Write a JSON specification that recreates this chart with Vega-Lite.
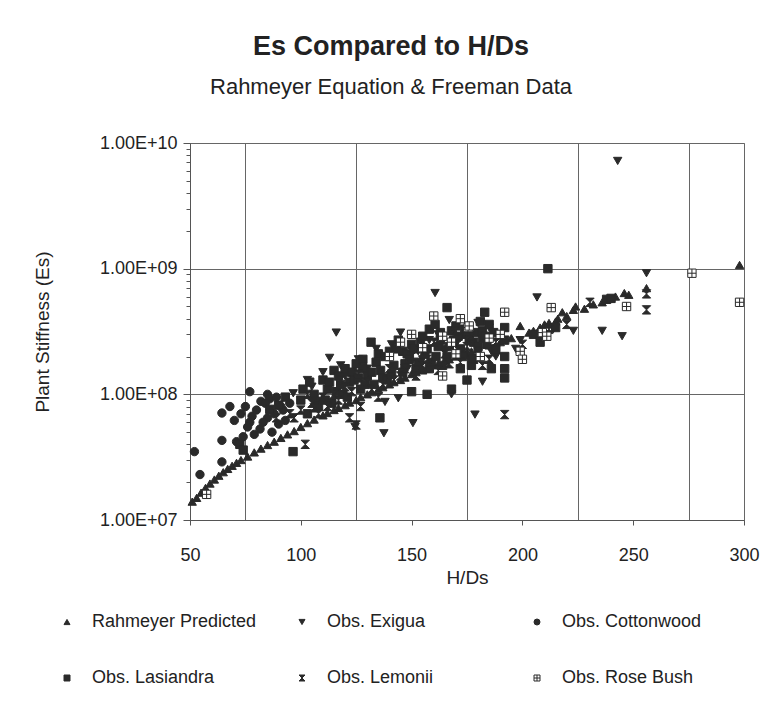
{
  "$schema": "https://vega.github.io/schema/vega-lite/v6.json",
  "width": 554,
  "height": 377,
  "autosize": "none",
  "padding": {"left": 190, "top": 143, "right": 34, "bottom": 198},
  "background": "white",
  "title": {
    "text": "Es Compared to H/Ds",
    "subtitle": "Rahmeyer Equation & Freeman Data",
    "anchor": "middle",
    "dx": -76,
    "offset": 35,
    "font": "Liberation Sans, Arial, sans-serif",
    "fontSize": 27,
    "fontWeight": "bold",
    "color": "#222",
    "subtitleFont": "Liberation Sans, Arial, sans-serif",
    "subtitleFontSize": 22,
    "subtitleColor": "#222",
    "subtitlePadding": 16
  },
  "config": {
    "view": {"stroke": "#666", "strokeWidth": 1},
    "font": "Liberation Sans, Arial, sans-serif",
    "axis": {
      "labelFont": "Liberation Sans, Arial, sans-serif",
      "titleFont": "Liberation Sans, Arial, sans-serif",
      "labelFontSize": 18,
      "titleFontSize": 19,
      "titleFontWeight": "normal",
      "labelColor": "#222",
      "titleColor": "#222",
      "domainColor": "#555",
      "tickColor": "#555",
      "gridColor": "#666",
      "gridWidth": 1
    },
    "legend": {
      "labelFont": "Liberation Sans, Arial, sans-serif",
      "labelFontSize": 18,
      "labelColor": "#222",
      "labelLimit": 300
    }
  },
  "data": {
    "values": [
      {"h": 51, "es": 1.4e7, "s": "Rahmeyer Predicted"},
      {"h": 53, "es": 1.5e7, "s": "Rahmeyer Predicted"},
      {"h": 55, "es": 1.65e7, "s": "Rahmeyer Predicted"},
      {"h": 57, "es": 1.8e7, "s": "Rahmeyer Predicted"},
      {"h": 59, "es": 1.95e7, "s": "Rahmeyer Predicted"},
      {"h": 61, "es": 2.1e7, "s": "Rahmeyer Predicted"},
      {"h": 63, "es": 2.25e7, "s": "Rahmeyer Predicted"},
      {"h": 65, "es": 2.4e7, "s": "Rahmeyer Predicted"},
      {"h": 67, "es": 2.55e7, "s": "Rahmeyer Predicted"},
      {"h": 69, "es": 2.7e7, "s": "Rahmeyer Predicted"},
      {"h": 71, "es": 2.85e7, "s": "Rahmeyer Predicted"},
      {"h": 73, "es": 3.0e7, "s": "Rahmeyer Predicted"},
      {"h": 76, "es": 3.2e7, "s": "Rahmeyer Predicted"},
      {"h": 79, "es": 3.45e7, "s": "Rahmeyer Predicted"},
      {"h": 82, "es": 3.7e7, "s": "Rahmeyer Predicted"},
      {"h": 85, "es": 3.95e7, "s": "Rahmeyer Predicted"},
      {"h": 88, "es": 4.2e7, "s": "Rahmeyer Predicted"},
      {"h": 91, "es": 4.5e7, "s": "Rahmeyer Predicted"},
      {"h": 94, "es": 4.8e7, "s": "Rahmeyer Predicted"},
      {"h": 97, "es": 5.1e7, "s": "Rahmeyer Predicted"},
      {"h": 100, "es": 5.5e7, "s": "Rahmeyer Predicted"},
      {"h": 103, "es": 5.9e7, "s": "Rahmeyer Predicted"},
      {"h": 106, "es": 6.3e7, "s": "Rahmeyer Predicted"},
      {"h": 110, "es": 6.8e7, "s": "Rahmeyer Predicted"},
      {"h": 112, "es": 7.1e7, "s": "Rahmeyer Predicted"},
      {"h": 115, "es": 7.5e7, "s": "Rahmeyer Predicted"},
      {"h": 117, "es": 7.8e7, "s": "Rahmeyer Predicted"},
      {"h": 120, "es": 8.2e7, "s": "Rahmeyer Predicted"},
      {"h": 122, "es": 8.6e7, "s": "Rahmeyer Predicted"},
      {"h": 125, "es": 9.0e7, "s": "Rahmeyer Predicted"},
      {"h": 127, "es": 9.5e7, "s": "Rahmeyer Predicted"},
      {"h": 130, "es": 1.0e8, "s": "Rahmeyer Predicted"},
      {"h": 132, "es": 1.04e8, "s": "Rahmeyer Predicted"},
      {"h": 135, "es": 1.1e8, "s": "Rahmeyer Predicted"},
      {"h": 137, "es": 1.14e8, "s": "Rahmeyer Predicted"},
      {"h": 140, "es": 1.2e8, "s": "Rahmeyer Predicted"},
      {"h": 142, "es": 1.25e8, "s": "Rahmeyer Predicted"},
      {"h": 145, "es": 1.3e8, "s": "Rahmeyer Predicted"},
      {"h": 147, "es": 1.36e8, "s": "Rahmeyer Predicted"},
      {"h": 150, "es": 1.45e8, "s": "Rahmeyer Predicted"},
      {"h": 152, "es": 1.5e8, "s": "Rahmeyer Predicted"},
      {"h": 155, "es": 1.55e8, "s": "Rahmeyer Predicted"},
      {"h": 157, "es": 1.6e8, "s": "Rahmeyer Predicted"},
      {"h": 160, "es": 1.7e8, "s": "Rahmeyer Predicted"},
      {"h": 162, "es": 1.75e8, "s": "Rahmeyer Predicted"},
      {"h": 165, "es": 1.85e8, "s": "Rahmeyer Predicted"},
      {"h": 167, "es": 1.9e8, "s": "Rahmeyer Predicted"},
      {"h": 170, "es": 2.0e8, "s": "Rahmeyer Predicted"},
      {"h": 172, "es": 2.05e8, "s": "Rahmeyer Predicted"},
      {"h": 175, "es": 2.15e8, "s": "Rahmeyer Predicted"},
      {"h": 177, "es": 2.2e8, "s": "Rahmeyer Predicted"},
      {"h": 180, "es": 2.3e8, "s": "Rahmeyer Predicted"},
      {"h": 185, "es": 2.45e8, "s": "Rahmeyer Predicted"},
      {"h": 190, "es": 2.6e8, "s": "Rahmeyer Predicted"},
      {"h": 195, "es": 2.8e8, "s": "Rahmeyer Predicted"},
      {"h": 199, "es": 3.5e8, "s": "Rahmeyer Predicted"},
      {"h": 203, "es": 3.1e8, "s": "Rahmeyer Predicted"},
      {"h": 205, "es": 3.2e8, "s": "Rahmeyer Predicted"},
      {"h": 208, "es": 3.4e8, "s": "Rahmeyer Predicted"},
      {"h": 210, "es": 3.6e8, "s": "Rahmeyer Predicted"},
      {"h": 212, "es": 3.7e8, "s": "Rahmeyer Predicted"},
      {"h": 215, "es": 3.8e8, "s": "Rahmeyer Predicted"},
      {"h": 216, "es": 4.0e8, "s": "Rahmeyer Predicted"},
      {"h": 218, "es": 4.5e8, "s": "Rahmeyer Predicted"},
      {"h": 220, "es": 4.2e8, "s": "Rahmeyer Predicted"},
      {"h": 223, "es": 4.7e8, "s": "Rahmeyer Predicted"},
      {"h": 224, "es": 5.0e8, "s": "Rahmeyer Predicted"},
      {"h": 228, "es": 4.8e8, "s": "Rahmeyer Predicted"},
      {"h": 232, "es": 5.2e8, "s": "Rahmeyer Predicted"},
      {"h": 236, "es": 5.4e8, "s": "Rahmeyer Predicted"},
      {"h": 239, "es": 5.8e8, "s": "Rahmeyer Predicted"},
      {"h": 242, "es": 6.0e8, "s": "Rahmeyer Predicted"},
      {"h": 246, "es": 6.4e8, "s": "Rahmeyer Predicted"},
      {"h": 248, "es": 6.2e8, "s": "Rahmeyer Predicted"},
      {"h": 256, "es": 7.0e8, "s": "Rahmeyer Predicted"},
      {"h": 298, "es": 1.07e9, "s": "Rahmeyer Predicted"},

      {"h": 96.6, "es": 1.02e8, "s": "Obs. Exigua"},
      {"h": 103, "es": 1.3e8, "s": "Obs. Exigua"},
      {"h": 105, "es": 1.15e8, "s": "Obs. Exigua"},
      {"h": 113, "es": 1.95e8, "s": "Obs. Exigua"},
      {"h": 116, "es": 3.1e8, "s": "Obs. Exigua"},
      {"h": 118, "es": 1.7e8, "s": "Obs. Exigua"},
      {"h": 124.5, "es": 5.5e7, "s": "Obs. Exigua"},
      {"h": 126, "es": 1.9e8, "s": "Obs. Exigua"},
      {"h": 134, "es": 2.3e8, "s": "Obs. Exigua"},
      {"h": 137.5, "es": 4.9e7, "s": "Obs. Exigua"},
      {"h": 141, "es": 2.5e8, "s": "Obs. Exigua"},
      {"h": 148, "es": 1.6e8, "s": "Obs. Exigua"},
      {"h": 150.6, "es": 5.9e7, "s": "Obs. Exigua"},
      {"h": 153, "es": 2.2e8, "s": "Obs. Exigua"},
      {"h": 144, "es": 9.3e7, "s": "Obs. Exigua"},
      {"h": 138, "es": 8.7e7, "s": "Obs. Exigua"},
      {"h": 162, "es": 3.0e8, "s": "Obs. Exigua"},
      {"h": 168, "es": 1.0e8, "s": "Obs. Exigua"},
      {"h": 170, "es": 2.5e8, "s": "Obs. Exigua"},
      {"h": 176, "es": 1.9e8, "s": "Obs. Exigua"},
      {"h": 178.6, "es": 6.9e7, "s": "Obs. Exigua"},
      {"h": 180, "es": 3.7e8, "s": "Obs. Exigua"},
      {"h": 160.6, "es": 6.4e8, "s": "Obs. Exigua"},
      {"h": 145, "es": 3.1e8, "s": "Obs. Exigua"},
      {"h": 182, "es": 1.26e8, "s": "Obs. Exigua"},
      {"h": 188, "es": 2.0e8, "s": "Obs. Exigua"},
      {"h": 197, "es": 2.3e8, "s": "Obs. Exigua"},
      {"h": 206.6, "es": 5.9e8, "s": "Obs. Exigua"},
      {"h": 199, "es": 2.7e8, "s": "Obs. Exigua"},
      {"h": 214, "es": 3.3e8, "s": "Obs. Exigua"},
      {"h": 223, "es": 3.2e8, "s": "Obs. Exigua"},
      {"h": 236, "es": 3.2e8, "s": "Obs. Exigua"},
      {"h": 245, "es": 2.9e8, "s": "Obs. Exigua"},
      {"h": 256, "es": 9.2e8, "s": "Obs. Exigua"},
      {"h": 243, "es": 7.2e9, "s": "Obs. Exigua"},
      {"h": 110, "es": 1.5e8, "s": "Obs. Exigua"},
      {"h": 120, "es": 1.4e8, "s": "Obs. Exigua"},
      {"h": 130, "es": 1.6e8, "s": "Obs. Exigua"},
      {"h": 155, "es": 1.9e8, "s": "Obs. Exigua"},
      {"h": 165, "es": 2.3e8, "s": "Obs. Exigua"},
      {"h": 172, "es": 2.8e8, "s": "Obs. Exigua"},
      {"h": 185, "es": 3.4e8, "s": "Obs. Exigua"},
      {"h": 186, "es": 2.2e8, "s": "Obs. Exigua"},
      {"h": 210, "es": 3.0e8, "s": "Obs. Exigua"},
      {"h": 167, "es": 3.9e8, "s": "Obs. Exigua"},
      {"h": 158, "es": 2.7e8, "s": "Obs. Exigua"},

      {"h": 52, "es": 3.5e7, "s": "Obs. Cottonwood"},
      {"h": 54.5, "es": 2.3e7, "s": "Obs. Cottonwood"},
      {"h": 64.4, "es": 2.9e7, "s": "Obs. Cottonwood"},
      {"h": 64.4, "es": 4.3e7, "s": "Obs. Cottonwood"},
      {"h": 64.4, "es": 7.1e7, "s": "Obs. Cottonwood"},
      {"h": 68, "es": 8.0e7, "s": "Obs. Cottonwood"},
      {"h": 70, "es": 6.2e7, "s": "Obs. Cottonwood"},
      {"h": 77, "es": 1.05e8, "s": "Obs. Cottonwood"},
      {"h": 85, "es": 1.0e8, "s": "Obs. Cottonwood"},
      {"h": 75, "es": 8.0e7, "s": "Obs. Cottonwood"},
      {"h": 71, "es": 4.2e7, "s": "Obs. Cottonwood"},
      {"h": 74, "es": 4.6e7, "s": "Obs. Cottonwood"},
      {"h": 77, "es": 6.0e7, "s": "Obs. Cottonwood"},
      {"h": 81.6, "es": 5.3e7, "s": "Obs. Cottonwood"},
      {"h": 78, "es": 6.7e7, "s": "Obs. Cottonwood"},
      {"h": 85, "es": 6.5e7, "s": "Obs. Cottonwood"},
      {"h": 80, "es": 7.5e7, "s": "Obs. Cottonwood"},
      {"h": 82, "es": 8.8e7, "s": "Obs. Cottonwood"},
      {"h": 83, "es": 6.0e7, "s": "Obs. Cottonwood"},
      {"h": 86, "es": 9.2e7, "s": "Obs. Cottonwood"},
      {"h": 88, "es": 7.0e7, "s": "Obs. Cottonwood"},
      {"h": 89, "es": 9.5e7, "s": "Obs. Cottonwood"},
      {"h": 90, "es": 5.8e7, "s": "Obs. Cottonwood"},
      {"h": 91, "es": 8.0e7, "s": "Obs. Cottonwood"},
      {"h": 92, "es": 7.5e7, "s": "Obs. Cottonwood"},
      {"h": 95, "es": 8.5e7, "s": "Obs. Cottonwood"},
      {"h": 87, "es": 5.0e7, "s": "Obs. Cottonwood"},
      {"h": 73, "es": 7.0e7, "s": "Obs. Cottonwood"},
      {"h": 76, "es": 5.5e7, "s": "Obs. Cottonwood"},
      {"h": 79, "es": 4.8e7, "s": "Obs. Cottonwood"},
      {"h": 84, "es": 8.5e7, "s": "Obs. Cottonwood"},
      {"h": 93, "es": 6.2e7, "s": "Obs. Cottonwood"},

      {"h": 96.5, "es": 3.5e7, "s": "Obs. Lasiandra"},
      {"h": 72.5, "es": 4.0e7, "s": "Obs. Lasiandra"},
      {"h": 74, "es": 3.6e7, "s": "Obs. Lasiandra"},
      {"h": 86, "es": 7.6e7, "s": "Obs. Lasiandra"},
      {"h": 90, "es": 8.2e7, "s": "Obs. Lasiandra"},
      {"h": 93, "es": 9.5e7, "s": "Obs. Lasiandra"},
      {"h": 100, "es": 9.0e7, "s": "Obs. Lasiandra"},
      {"h": 101, "es": 1.1e8, "s": "Obs. Lasiandra"},
      {"h": 103, "es": 7.0e7, "s": "Obs. Lasiandra"},
      {"h": 104, "es": 1.25e8, "s": "Obs. Lasiandra"},
      {"h": 106, "es": 1.0e8, "s": "Obs. Lasiandra"},
      {"h": 107, "es": 8.8e7, "s": "Obs. Lasiandra"},
      {"h": 108, "es": 8.0e7, "s": "Obs. Lasiandra"},
      {"h": 110, "es": 1.3e8, "s": "Obs. Lasiandra"},
      {"h": 111, "es": 9.0e7, "s": "Obs. Lasiandra"},
      {"h": 112, "es": 1.1e8, "s": "Obs. Lasiandra"},
      {"h": 113, "es": 1.25e8, "s": "Obs. Lasiandra"},
      {"h": 114, "es": 8.5e7, "s": "Obs. Lasiandra"},
      {"h": 115, "es": 1.55e8, "s": "Obs. Lasiandra"},
      {"h": 116, "es": 1.05e8, "s": "Obs. Lasiandra"},
      {"h": 117, "es": 1.4e8, "s": "Obs. Lasiandra"},
      {"h": 118, "es": 1.2e8, "s": "Obs. Lasiandra"},
      {"h": 119, "es": 1.0e8, "s": "Obs. Lasiandra"},
      {"h": 120, "es": 1.6e8, "s": "Obs. Lasiandra"},
      {"h": 121, "es": 9.5e7, "s": "Obs. Lasiandra"},
      {"h": 122, "es": 1.25e8, "s": "Obs. Lasiandra"},
      {"h": 123, "es": 1.5e8, "s": "Obs. Lasiandra"},
      {"h": 124, "es": 1.3e8, "s": "Obs. Lasiandra"},
      {"h": 125, "es": 1.75e8, "s": "Obs. Lasiandra"},
      {"h": 126, "es": 1.35e8, "s": "Obs. Lasiandra"},
      {"h": 127, "es": 1.1e8, "s": "Obs. Lasiandra"},
      {"h": 128, "es": 1.6e8, "s": "Obs. Lasiandra"},
      {"h": 128, "es": 1.9e8, "s": "Obs. Lasiandra"},
      {"h": 129, "es": 1.2e8, "s": "Obs. Lasiandra"},
      {"h": 130, "es": 1.4e8, "s": "Obs. Lasiandra"},
      {"h": 131.7, "es": 2.6e8, "s": "Obs. Lasiandra"},
      {"h": 132, "es": 1.5e8, "s": "Obs. Lasiandra"},
      {"h": 133, "es": 1.2e8, "s": "Obs. Lasiandra"},
      {"h": 134, "es": 1.8e8, "s": "Obs. Lasiandra"},
      {"h": 135, "es": 2.1e8, "s": "Obs. Lasiandra"},
      {"h": 135.7, "es": 6.5e7, "s": "Obs. Lasiandra"},
      {"h": 136, "es": 1.55e8, "s": "Obs. Lasiandra"},
      {"h": 137, "es": 1.35e8, "s": "Obs. Lasiandra"},
      {"h": 138, "es": 2.0e8, "s": "Obs. Lasiandra"},
      {"h": 139, "es": 1.3e8, "s": "Obs. Lasiandra"},
      {"h": 140, "es": 2.2e8, "s": "Obs. Lasiandra"},
      {"h": 141, "es": 1.45e8, "s": "Obs. Lasiandra"},
      {"h": 142, "es": 1.7e8, "s": "Obs. Lasiandra"},
      {"h": 143, "es": 2.3e8, "s": "Obs. Lasiandra"},
      {"h": 144, "es": 2.7e8, "s": "Obs. Lasiandra"},
      {"h": 146, "es": 1.5e8, "s": "Obs. Lasiandra"},
      {"h": 146, "es": 2.2e8, "s": "Obs. Lasiandra"},
      {"h": 147, "es": 1.75e8, "s": "Obs. Lasiandra"},
      {"h": 148, "es": 2.1e8, "s": "Obs. Lasiandra"},
      {"h": 149, "es": 1.9e8, "s": "Obs. Lasiandra"},
      {"h": 150, "es": 1.05e8, "s": "Obs. Lasiandra"},
      {"h": 150, "es": 2.5e8, "s": "Obs. Lasiandra"},
      {"h": 151, "es": 2.3e8, "s": "Obs. Lasiandra"},
      {"h": 152, "es": 1.6e8, "s": "Obs. Lasiandra"},
      {"h": 153, "es": 1.8e8, "s": "Obs. Lasiandra"},
      {"h": 154, "es": 2.6e8, "s": "Obs. Lasiandra"},
      {"h": 155, "es": 2.9e8, "s": "Obs. Lasiandra"},
      {"h": 156, "es": 2.1e8, "s": "Obs. Lasiandra"},
      {"h": 157, "es": 1.0e8, "s": "Obs. Lasiandra"},
      {"h": 157, "es": 2.3e8, "s": "Obs. Lasiandra"},
      {"h": 158, "es": 1.6e8, "s": "Obs. Lasiandra"},
      {"h": 158, "es": 3.3e8, "s": "Obs. Lasiandra"},
      {"h": 159, "es": 1.8e8, "s": "Obs. Lasiandra"},
      {"h": 160.6, "es": 3.6e8, "s": "Obs. Lasiandra"},
      {"h": 161, "es": 2.0e8, "s": "Obs. Lasiandra"},
      {"h": 162, "es": 2.4e8, "s": "Obs. Lasiandra"},
      {"h": 163, "es": 2.7e8, "s": "Obs. Lasiandra"},
      {"h": 163, "es": 3.1e8, "s": "Obs. Lasiandra"},
      {"h": 164, "es": 1.7e8, "s": "Obs. Lasiandra"},
      {"h": 166, "es": 2.0e8, "s": "Obs. Lasiandra"},
      {"h": 166, "es": 4.9e8, "s": "Obs. Lasiandra"},
      {"h": 167, "es": 2.4e8, "s": "Obs. Lasiandra"},
      {"h": 168, "es": 1.1e8, "s": "Obs. Lasiandra"},
      {"h": 168, "es": 3.2e8, "s": "Obs. Lasiandra"},
      {"h": 169, "es": 2.7e8, "s": "Obs. Lasiandra"},
      {"h": 170, "es": 3.5e8, "s": "Obs. Lasiandra"},
      {"h": 171, "es": 2.9e8, "s": "Obs. Lasiandra"},
      {"h": 172, "es": 1.6e8, "s": "Obs. Lasiandra"},
      {"h": 172, "es": 2.3e8, "s": "Obs. Lasiandra"},
      {"h": 173, "es": 2.0e8, "s": "Obs. Lasiandra"},
      {"h": 174, "es": 3.3e8, "s": "Obs. Lasiandra"},
      {"h": 175, "es": 1.3e8, "s": "Obs. Lasiandra"},
      {"h": 175, "es": 3.0e8, "s": "Obs. Lasiandra"},
      {"h": 176, "es": 2.7e8, "s": "Obs. Lasiandra"},
      {"h": 177, "es": 1.7e8, "s": "Obs. Lasiandra"},
      {"h": 178, "es": 1.9e8, "s": "Obs. Lasiandra"},
      {"h": 178, "es": 2.6e8, "s": "Obs. Lasiandra"},
      {"h": 179, "es": 3.1e8, "s": "Obs. Lasiandra"},
      {"h": 180, "es": 2.4e8, "s": "Obs. Lasiandra"},
      {"h": 181, "es": 3.8e8, "s": "Obs. Lasiandra"},
      {"h": 182, "es": 2.8e8, "s": "Obs. Lasiandra"},
      {"h": 182, "es": 3.2e8, "s": "Obs. Lasiandra"},
      {"h": 183, "es": 2.9e8, "s": "Obs. Lasiandra"},
      {"h": 183, "es": 4.5e8, "s": "Obs. Lasiandra"},
      {"h": 184, "es": 2.5e8, "s": "Obs. Lasiandra"},
      {"h": 185, "es": 3.6e8, "s": "Obs. Lasiandra"},
      {"h": 186, "es": 1.6e8, "s": "Obs. Lasiandra"},
      {"h": 187, "es": 3.1e8, "s": "Obs. Lasiandra"},
      {"h": 188, "es": 2.3e8, "s": "Obs. Lasiandra"},
      {"h": 192, "es": 3.4e8, "s": "Obs. Lasiandra"},
      {"h": 192, "es": 2.7e8, "s": "Obs. Lasiandra"},
      {"h": 192, "es": 2.0e8, "s": "Obs. Lasiandra"},
      {"h": 192, "es": 1.6e8, "s": "Obs. Lasiandra"},
      {"h": 192, "es": 1.35e8, "s": "Obs. Lasiandra"},
      {"h": 205, "es": 3.0e8, "s": "Obs. Lasiandra"},
      {"h": 208, "es": 2.6e8, "s": "Obs. Lasiandra"},
      {"h": 211.5, "es": 1.0e9, "s": "Obs. Lasiandra"},
      {"h": 215, "es": 3.4e8, "s": "Obs. Lasiandra"},
      {"h": 238, "es": 5.7e8, "s": "Obs. Lasiandra"},
      {"h": 240, "es": 5.8e8, "s": "Obs. Lasiandra"},

      {"h": 89, "es": 6.5e7, "s": "Obs. Lemonii"},
      {"h": 95, "es": 7.0e7, "s": "Obs. Lemonii"},
      {"h": 97, "es": 6.5e7, "s": "Obs. Lemonii"},
      {"h": 100, "es": 7.5e7, "s": "Obs. Lemonii"},
      {"h": 102, "es": 4.0e7, "s": "Obs. Lemonii"},
      {"h": 103, "es": 1.0e8, "s": "Obs. Lemonii"},
      {"h": 105, "es": 8.5e7, "s": "Obs. Lemonii"},
      {"h": 106, "es": 7.8e7, "s": "Obs. Lemonii"},
      {"h": 108, "es": 7.0e7, "s": "Obs. Lemonii"},
      {"h": 110, "es": 9.5e7, "s": "Obs. Lemonii"},
      {"h": 112, "es": 8.0e7, "s": "Obs. Lemonii"},
      {"h": 115, "es": 1.0e8, "s": "Obs. Lemonii"},
      {"h": 117, "es": 9.0e7, "s": "Obs. Lemonii"},
      {"h": 118, "es": 1.3e8, "s": "Obs. Lemonii"},
      {"h": 120, "es": 1.15e8, "s": "Obs. Lemonii"},
      {"h": 122, "es": 6.5e7, "s": "Obs. Lemonii"},
      {"h": 123, "es": 1.05e8, "s": "Obs. Lemonii"},
      {"h": 125, "es": 5.7e7, "s": "Obs. Lemonii"},
      {"h": 126, "es": 1.45e8, "s": "Obs. Lemonii"},
      {"h": 127, "es": 8.0e7, "s": "Obs. Lemonii"},
      {"h": 130, "es": 1.25e8, "s": "Obs. Lemonii"},
      {"h": 132, "es": 1.1e8, "s": "Obs. Lemonii"},
      {"h": 135, "es": 9.5e7, "s": "Obs. Lemonii"},
      {"h": 137, "es": 1.2e8, "s": "Obs. Lemonii"},
      {"h": 140, "es": 1.6e8, "s": "Obs. Lemonii"},
      {"h": 142, "es": 1.3e8, "s": "Obs. Lemonii"},
      {"h": 145, "es": 1.4e8, "s": "Obs. Lemonii"},
      {"h": 147, "es": 1.6e8, "s": "Obs. Lemonii"},
      {"h": 150, "es": 2.0e8, "s": "Obs. Lemonii"},
      {"h": 152, "es": 1.4e8, "s": "Obs. Lemonii"},
      {"h": 155, "es": 1.7e8, "s": "Obs. Lemonii"},
      {"h": 157, "es": 1.9e8, "s": "Obs. Lemonii"},
      {"h": 160, "es": 2.6e8, "s": "Obs. Lemonii"},
      {"h": 162, "es": 1.55e8, "s": "Obs. Lemonii"},
      {"h": 165, "es": 2.1e8, "s": "Obs. Lemonii"},
      {"h": 167, "es": 1.75e8, "s": "Obs. Lemonii"},
      {"h": 170, "es": 3.2e8, "s": "Obs. Lemonii"},
      {"h": 172, "es": 1.8e8, "s": "Obs. Lemonii"},
      {"h": 175, "es": 2.4e8, "s": "Obs. Lemonii"},
      {"h": 177, "es": 2.9e8, "s": "Obs. Lemonii"},
      {"h": 180, "es": 2.2e8, "s": "Obs. Lemonii"},
      {"h": 182, "es": 1.7e8, "s": "Obs. Lemonii"},
      {"h": 185, "es": 1.9e8, "s": "Obs. Lemonii"},
      {"h": 188, "es": 2.6e8, "s": "Obs. Lemonii"},
      {"h": 192, "es": 6.9e7, "s": "Obs. Lemonii"},
      {"h": 200, "es": 2.5e8, "s": "Obs. Lemonii"},
      {"h": 208, "es": 3.0e8, "s": "Obs. Lemonii"},
      {"h": 212, "es": 3.3e8, "s": "Obs. Lemonii"},
      {"h": 220, "es": 3.6e8, "s": "Obs. Lemonii"},
      {"h": 230.5, "es": 5.4e8, "s": "Obs. Lemonii"},
      {"h": 256, "es": 6.3e8, "s": "Obs. Lemonii"},
      {"h": 256, "es": 4.7e8, "s": "Obs. Lemonii"},

      {"h": 57.5, "es": 1.6e7, "s": "Obs. Rose Bush"},
      {"h": 140, "es": 2.0e8, "s": "Obs. Rose Bush"},
      {"h": 145, "es": 2.6e8, "s": "Obs. Rose Bush"},
      {"h": 150, "es": 3.0e8, "s": "Obs. Rose Bush"},
      {"h": 155, "es": 2.35e8, "s": "Obs. Rose Bush"},
      {"h": 160, "es": 4.2e8, "s": "Obs. Rose Bush"},
      {"h": 164, "es": 2.9e8, "s": "Obs. Rose Bush"},
      {"h": 164, "es": 1.4e8, "s": "Obs. Rose Bush"},
      {"h": 168, "es": 2.6e8, "s": "Obs. Rose Bush"},
      {"h": 170, "es": 2.1e8, "s": "Obs. Rose Bush"},
      {"h": 172, "es": 4.0e8, "s": "Obs. Rose Bush"},
      {"h": 175.5, "es": 3.4e8, "s": "Obs. Rose Bush"},
      {"h": 176, "es": 3.5e8, "s": "Obs. Rose Bush"},
      {"h": 181, "es": 2.0e8, "s": "Obs. Rose Bush"},
      {"h": 185, "es": 2.8e8, "s": "Obs. Rose Bush"},
      {"h": 190, "es": 3.0e8, "s": "Obs. Rose Bush"},
      {"h": 192, "es": 4.5e8, "s": "Obs. Rose Bush"},
      {"h": 199, "es": 2.2e8, "s": "Obs. Rose Bush"},
      {"h": 200, "es": 1.9e8, "s": "Obs. Rose Bush"},
      {"h": 209, "es": 3.1e8, "s": "Obs. Rose Bush"},
      {"h": 211, "es": 2.9e8, "s": "Obs. Rose Bush"},
      {"h": 213, "es": 4.9e8, "s": "Obs. Rose Bush"},
      {"h": 247, "es": 5.0e8, "s": "Obs. Rose Bush"},
      {"h": 276.5, "es": 9.2e8, "s": "Obs. Rose Bush"},
      {"h": 298, "es": 5.4e8, "s": "Obs. Rose Bush"}
    ]
  },
  "mark": {"type": "point", "filled": true, "strokeWidth": 1, "opacity": 1, "size": 70},
  "encoding": {
    "x": {
      "field": "h",
      "type": "quantitative",
      "scale": {"domain": [50, 300], "nice": false, "zero": false},
      "axis": {
        "title": "H/Ds",
        "values": [50, 75, 100, 125, 150, 175, 200, 225, 250, 275, 300],
        "labelExpr": "datum.value % 50 == 0 ? datum.label : ''",
        "grid": true,
        "gridOpacity": {"condition": {"test": "datum.value % 50 != 0", "value": 1}, "value": 0},
        "tickOpacity": {"condition": {"test": "datum.value % 50 == 0", "value": 1}, "value": 0},
        "tickSize": 5,
        "labelPadding": 21,
        "labelFlush": false,
        "labelOverlap": false,
        "titlePadding": 4
      }
    },
    "y": {
      "field": "es",
      "type": "quantitative",
      "scale": {"type": "log", "domain": [1e7, 1e10], "nice": false},
      "axis": {
        "title": "Plant Stiffness (Es)",
        "values": [1e7, 2e7, 3e7, 4e7, 5e7, 6e7, 7e7, 8e7, 9e7, 1e8, 2e8, 3e8, 4e8, 5e8, 6e8, 7e8, 8e8, 9e8, 1e9, 2e9, 3e9, 4e9, 5e9, 6e9, 7e9, 8e9, 9e9, 1e10],
        "labelExpr": "abs(log(datum.value)/log(10) - round(log(datum.value)/log(10))) < 0.001 ? '1.00E+' + (round(log(datum.value)/log(10)) < 10 ? '0' : '') + round(log(datum.value)/log(10)) : ''",
        "grid": true,
        "gridOpacity": {"condition": {"test": "abs(log(datum.value)/log(10) - round(log(datum.value)/log(10))) < 0.001", "value": 1}, "value": 0},
        "tickSize": {"condition": {"test": "abs(log(datum.value)/log(10) - round(log(datum.value)/log(10))) < 0.001", "value": 7}, "value": 4},
        "labelPadding": 6,
        "labelOverlap": false,
        "labelFlush": false,
        "titlePadding": 47
      }
    },
    "shape": {
      "field": "s",
      "type": "nominal",
      "scale": {
        "domain": ["Rahmeyer Predicted", "Obs. Exigua", "Obs. Cottonwood", "Obs. Lasiandra", "Obs. Lemonii", "Obs. Rose Bush"],
        "range": ["triangle-up", "triangle-down", "circle", "square", "M-1,-1H1L-1,1H1Z", "M-1,-1H1V1H-1Z M0,-1V1 M-1,0H1"]
      },
      "legend": {
        "title": null,
        "orient": "none",
        "legendX": -132,
        "legendY": 470,
        "columns": 3,
        "direction": "horizontal",
        "gridAlign": "all",
        "columnPadding": 36,
        "rowPadding": 38,
        "symbolSize": 36,
        "labelOffset": 16,
        "symbolStrokeWidth": 1
      }
    },
    "fill": {
      "field": "s",
      "type": "nominal",
      "scale": {
        "domain": ["Rahmeyer Predicted", "Obs. Exigua", "Obs. Cottonwood", "Obs. Lasiandra", "Obs. Lemonii", "Obs. Rose Bush"],
        "range": ["#2a2a2a", "#2a2a2a", "#2a2a2a", "#2a2a2a", "#2a2a2a", "#ffffff"]
      }
    },
    "stroke": {
      "field": "s",
      "type": "nominal",
      "scale": {
        "domain": ["Rahmeyer Predicted", "Obs. Exigua", "Obs. Cottonwood", "Obs. Lasiandra", "Obs. Lemonii", "Obs. Rose Bush"],
        "range": ["#2a2a2a", "#2a2a2a", "#2a2a2a", "#2a2a2a", "#2a2a2a", "#2a2a2a"]
      }
    }
  }
}
